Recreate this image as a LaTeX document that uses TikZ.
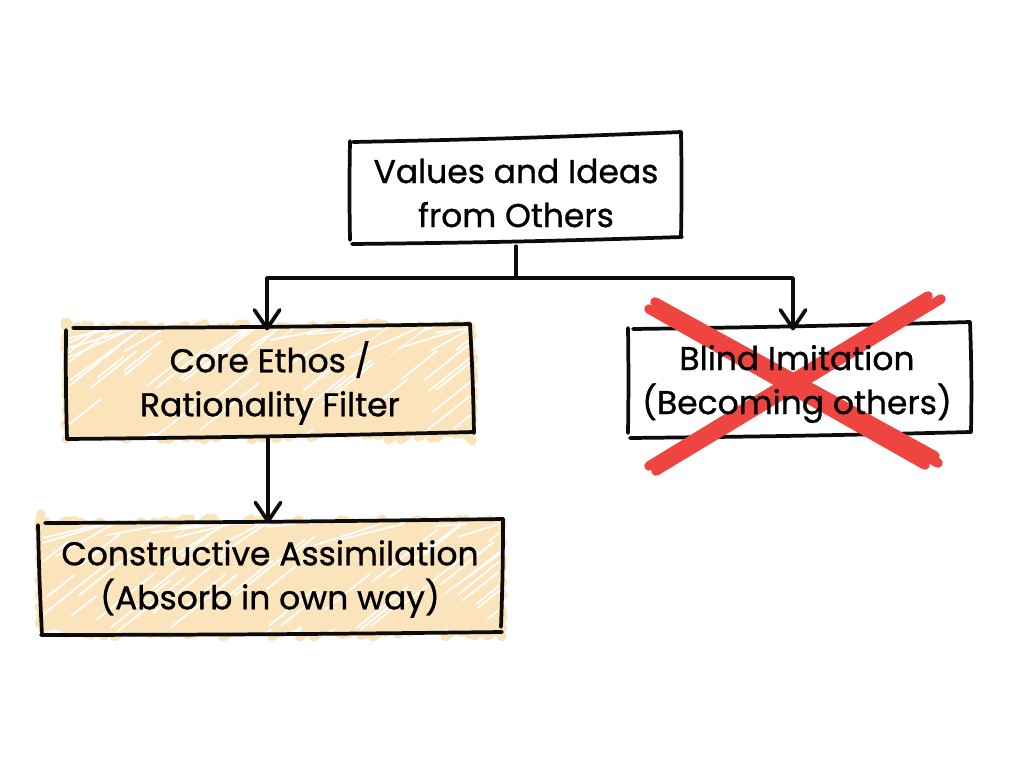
\documentclass[tikz,border=0pt]{standalone}
\usepackage{fontspec}
\setmainfont{Poppins}[AutoFakeBold=0.9]
\usetikzlibrary{arrows.meta}
\definecolor{fillpeach}{HTML}{FBE4BC}
\definecolor{crossred}{HTML}{EE4540}
\definecolor{inkblack}{HTML}{0C0C0C}
\tikzset{
  sketch/.style={draw=inkblack,line width=2.8pt,line cap=round,line join=round},
  boxlabel/.style={align=center,inner sep=0pt,font=\fontsize{24.7}{33}\selectfont\bfseries,text=black},
  conn/.style={sketch},
  arrowconn/.style={sketch,-{Straight Barb[length=14pt,width=19pt,line width=2.8pt,round]}},
  crossstroke/.style={draw=crossred,line width=7.2pt,line cap=round},
  hatch/.style={draw=fillpeach,line width=7pt,line cap=round},
  streak/.style={draw=white,line width=1.3pt,line cap=round}
}
\newcommand{\hatchbox}[5]{%
  \pgfmathsetseed{#5}%
  \pgfmathsetmacro{\hRun}{(#4-#2)/0.8}%
  \pgfmathsetmacro{\hS}{#1-\hRun}%
  \pgfmathsetmacro{\hN}{\hS+6}%
  \foreach \hT in {\hS,\hN,...,#3}{%
    \pgfmathsetmacro{\hJ}{\hT+rand*1.2}%
    \pgfmathsetmacro{\hSx}{max(\hJ,#1+2-3*rnd)}%
    \pgfmathsetmacro{\hEx}{min(\hJ+\hRun,#3-2+3*rnd)}%
    \pgfmathsetmacro{\hSy}{#4-(\hSx-\hJ)*0.8}%
    \pgfmathsetmacro{\hEy}{#4-(\hEx-\hJ)*0.8}%
    \pgfmathsetmacro{\hA}{rand*6-3}%
    \pgfmathsetmacro{\hB}{rand*6-3}%
    \draw[hatch] (\hSx,\hSy+\hA) -- (\hEx,\hEy-\hB);
  }%
  \foreach \hT in {\hS,\hN,...,#3}{%
    \pgfmathsetmacro{\hP}{rnd}%
    \ifdim\hP pt<0.6pt
      \pgfmathsetmacro{\hQ}{rnd}%
      \pgfmathsetmacro{\hL}{25+50*rnd}%
      \pgfmathsetmacro{\hSx}{max(\hT+\hQ*\hRun,#1+3)}%
      \pgfmathsetmacro{\hEx}{min(\hSx+\hL,#3-3)}%
      \pgfmathsetmacro{\hSy}{min(#4-3,#4-(\hSx-\hT)*0.8)}%
      \pgfmathsetmacro{\hEy}{max(#2+3,\hSy-(\hEx-\hSx)*0.8)}%
      \ifdim\hEx pt>\hSx pt
        \draw[streak] (\hSx,\hSy) -- (\hEx,\hEy);
      \fi
    \fi
  }%
}
\begin{document}
\begin{tikzpicture}[x=0.75pt,y=-0.75pt]
\useasboundingbox (0,0) rectangle (1024,768);
\fill[white] (0,0) rectangle (1024,768);

% peach scribble fills
\hatchbox{66}{326}{473}{437}{11}
\hatchbox{40}{521}{502}{634}{23}

% hand-drawn box outlines
\draw[sketch] (353,142) to[bend right=0.6] (681,132);
\draw[sketch] (681,132) to[bend left=1] (681,237);
\draw[sketch] (682,237) to[bend left=0.6] (352,244);
\draw[sketch] (350,240) to[bend left=1] (350,141);

\draw[sketch] (73,328) to[bend right=0.4] (470,324);
\draw[sketch] (470,324) to[bend left=1] (474,433);
\draw[sketch] (474,432) to[bend left=0.4] (67,439);
\draw[sketch] (67,439) to[bend left=1] (66,330);

\draw[sketch] (45,523) to[bend right=0.3] (503,519);
\draw[sketch] (503,519) to[bend left=1] (501,627);
\draw[sketch] (502,632) to[bend left=0.3] (41,635);
\draw[sketch] (42,635) to[bend left=0.8] (38,525);

\draw[sketch] (633,329) to[bend right=0.4] (970,322);
\draw[sketch] (970,322) to[bend left=1.5] (971,432);
\draw[sketch] (971,432) to[bend left=0.4] (630,438);
\draw[sketch] (628,433) to[bend right=0.8] (628,328);

% red cross
\draw[crossstroke] (655,302) -- (935,456);
\draw[crossstroke] (649,309) -- (925,465);
\draw[crossstroke] (670,316) -- (938,463);
\draw[crossstroke] (928,296) -- (649,466);
\draw[crossstroke] (941,299) -- (656,471);

% labelled nodes (box geometry)
\node[boxlabel,minimum width=249pt,minimum height=79.5pt] (top) at (516,193) {Values and Ideas\\from Others};
\node[boxlabel,minimum width=306pt,minimum height=82.5pt] (left) at (270,383) {Core Ethos /\\Rationality Filter};
\node[boxlabel,minimum width=346pt,minimum height=85.5pt] (bottom) at (270,579) {Constructive Assimilation\\(Absorb in own way)};
\node[boxlabel,minimum width=256pt,minimum height=84pt] (right) at (797,384) {Blind Imitation\\(Becoming others)};

% connectors
\coordinate (trunk) at (top.south |- 0,278);
\draw[conn] (top.south) -- (trunk);
\draw[arrowconn] (trunk) -| ([xshift=-2.2pt,yshift=-2pt]left.north);
\draw[arrowconn] (trunk) -| ([xshift=-3pt,yshift=-2pt]right.north);
\draw[arrowconn] ([xshift=-1.5pt]left.south) -- ([xshift=-1.5pt,yshift=-1pt]bottom.north);
\end{tikzpicture}
\end{document}
